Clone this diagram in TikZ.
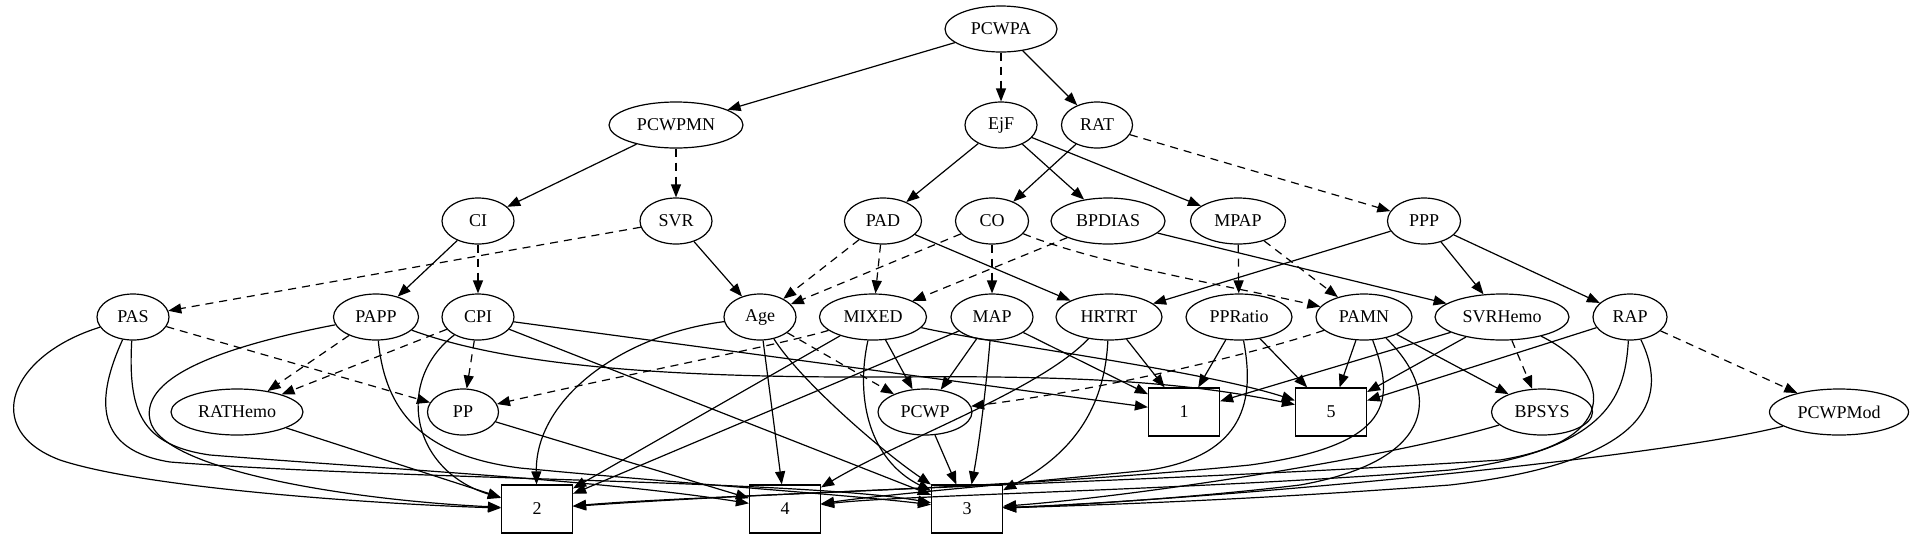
\documentclass[tikz,border=0pt]{standalone}
\usepackage{fontspec}
\setmainfont{Liberation Serif}
\usetikzlibrary{shapes.geometric, arrows.meta}

\tikzset{
	var/.style = {draw, ellipse, line width = 1.2pt, minimum height = 46pt, inner sep = 1pt, font = \fontsize{18}{20}\selectfont},
	res/.style = {draw, rectangle, line width = 1.2pt, minimum width = 71pt, minimum height = 48pt, font = \fontsize{18}{20}\selectfont},
	dep/.style = {->, line width = 1.2pt},
	weak/.style = {dep, dash pattern = on 8pt off 6pt}
}

\begin{document}
\begin{tikzpicture}[> = {Triangle[length = 13pt, width = 10pt]}, x = 1pt, y = -1pt]

	% Canvas (graph pixels, y pointing down)
	
	\useasboundingbox (0, 0) rectangle (1913, 539);

	% Upper rows of variables
	
	\node [var, minimum width = 112pt] (PCWPA) at (1001, 29) {PCWPA};
	
	\node [var, minimum width = 134pt] (PCWPMN) at (676, 125) {PCWPMN};
	\node [var, minimum width = 72pt] (EjF) at (1001, 125) {EjF};
	\node [var, minimum width = 71pt] (RAT) at (1097, 125) {RAT};
	
	\node [var, minimum width = 72pt] (CI) at (478, 221) {CI};
	\node [var, minimum width = 72pt] (SVR) at (676, 221) {SVR};
	\node [var, minimum width = 77pt] (PAD) at (883, 221) {PAD};
	\node [var, minimum width = 73pt] (CO) at (992, 221) {CO};
	\node [var, minimum width = 114pt] (BPDIAS) at (1108, 221) {BPDIAS};
	\node [var, minimum width = 95pt] (MPAP) at (1238, 221) {MPAP};
	\node [var, minimum width = 73pt] (PPP) at (1424, 221) {PPP};
	
	% Middle row
	
	\node [var, minimum width = 72pt] (PAS) at (133, 317) {PAS};
	\node [var, minimum width = 85pt] (PAPP) at (376, 317) {PAPP};
	\node [var, minimum width = 72pt] (CPI) at (478, 317) {CPI};
	\node [var, minimum width = 72pt] (Age) at (760, 317) {Age};
	\node [var, minimum width = 107pt] (MIXED) at (873, 317) {MIXED};
	\node [var, minimum width = 82pt] (MAP) at (992, 317) {MAP};
	\node [var, minimum width = 106pt] (HRTRT) at (1109, 317) {HRTRT};
	\node [var, minimum width = 106pt] (PPRatio) at (1239, 317) {PPRatio};
	\node [var, minimum width = 96pt] (PAMN) at (1364, 317) {PAMN};
	\node [var, minimum width = 134pt] (SVRHemo) at (1502, 317) {SVRHemo};
	\node [var, minimum width = 74pt] (RAP) at (1630, 317) {RAP};
	
	% Lower rows: variables and the five classes
	
	\node [var, minimum width = 132pt] (RATHemo) at (237, 412) {RATHemo};
	\node [var, minimum width = 71pt] (PP) at (463, 412) {PP};
	\node [var, minimum width = 94pt] (PCWP) at (925, 412) {PCWP};
	\node [res] (c1) at (1184, 412) {1};
	\node [res] (c5) at (1331, 412) {5};
	\node [var, minimum width = 101pt] (BPSYS) at (1542, 412) {BPSYS};
	\node [var, minimum width = 139pt] (PCWPMod) at (1839, 412) {PCWPMod};
	
	\node [res] (c2) at (537, 509) {2};
	\node [res] (c4) at (785, 509) {4};
	\node [res] (c3) at (967, 509) {3};

	% Edges between the upper rows
	
	\draw [dep] (PCWPA) -- (PCWPMN);
	\draw [weak] (PCWPA) -- (EjF);
	\draw [dep] (PCWPA) -- (RAT);
	\draw [dep] (PCWPMN) -- (CI);
	\draw [weak] (PCWPMN) -- (SVR);
	\draw [dep] (EjF) -- (PAD);
	\draw [dep] (EjF) -- (BPDIAS);
	\draw [dep] (EjF) -- (MPAP);
	\draw [dep] (RAT) -- (CO);
	\draw [weak] (RAT) -- (PPP);
	
	\draw [dep] (CI) -- (PAPP);
	\draw [weak] (CI) -- (CPI);
	\draw [weak] (SVR) -- (PAS);
	\draw [dep] (SVR) -- (Age);
	\draw [weak] (PAD) -- (Age);
	\draw [weak] (PAD) -- (MIXED);
	\draw [dep] (PAD) -- (HRTRT);
	\draw [weak] (CO) -- (Age);
	\draw [weak] (CO) -- (MAP);
	\draw [weak] (CO) .. controls (1100, 265) and (1250, 290) .. (PAMN);
	\draw [weak] (BPDIAS) -- (MIXED);
	\draw [dep] (BPDIAS) -- (SVRHemo);
	\draw [weak] (MPAP) -- (PPRatio);
	\draw [weak] (MPAP) -- (PAMN);
	\draw [dep] (PPP) -- (HRTRT);
	\draw [dep] (PPP) -- (SVRHemo);
	\draw [dep] (PPP) -- (RAP);
	
	% Edges out of the middle row, left part
	
	\draw [weak] (PAS) -- (PP);
	\draw [dep] (PAS) .. controls (10, 355) and (-20, 430) .. (60, 460) .. controls (150, 490) and (400, 505) .. (c2);
	\draw [dep] (PAS) .. controls (95, 400) and (95, 450) .. (170, 462) .. controls (400, 480) and (800, 480) .. (c3);
	\draw [dep] (PAS) .. controls (128, 410) and (140, 445) .. (210, 455) .. controls (400, 470) and (600, 480) .. (c4);
	
	\draw [weak] (PAPP) -- (RATHemo);
	\draw [dep] (PAPP) .. controls (230, 345) and (140, 375) .. (150, 420) .. controls (160, 470) and (350, 500) .. (c2);
	\draw [dep] (PAPP) .. controls (385, 410) and (420, 455) .. (520, 468) .. controls (700, 485) and (850, 495) .. (c3);
	\draw [dep] (PAPP) .. controls (520, 370) and (700, 378) .. (900, 377) .. controls (1100, 375) and (1200, 385) .. (c5);
	
	\draw [weak] (CPI) -- (RATHemo);
	\draw [weak] (CPI) -- (PP);
	\draw [dep] (CPI) .. controls (395, 380) and (410, 470) .. (c2);
	\draw [dep] (CPI) -- (c3);
	\draw [dep] (CPI) -- (c1);
	
	\draw [dep] (RATHemo) -- (c2);
	\draw [dep] (PP) -- (c4);
	
	% Edges out of the middle row, centre part
	
	\draw [dep] (Age) .. controls (620, 335) and (535, 400) .. (c2);
	\draw [dep] (Age) -- (c4);
	\draw [dep] (Age) .. controls (800, 380) and (880, 450) .. (c3);
	\draw [weak] (Age) -- (PCWP);
	
	\draw [weak] (MIXED) .. controls (780, 345) and (600, 380) .. (PP);
	\draw [dep] (MIXED) -- (c2);
	\draw [dep] (MIXED) .. controls (855, 400) and (870, 460) .. (c3);
	\draw [dep] (MIXED) -- (PCWP);
	\draw [dep] (MIXED) .. controls (1000, 345) and (1200, 370) .. (c5);
	
	\draw [dep] (MAP) -- (c2);
	\draw [dep] (MAP) -- (PCWP);
	\draw [dep] (MAP) .. controls (985, 400) and (978, 450) .. (c3);
	\draw [dep] (MAP) -- (c1);
	
	\draw [dep] (HRTRT) .. controls (1040, 390) and (900, 440) .. (c4);
	\draw [dep] (HRTRT) .. controls (1105, 400) and (1080, 450) .. (c3);
	\draw [dep] (HRTRT) -- (c1);
	
	\draw [dep] (PCWP) -- (c3);
	
	% Edges out of the middle row, right part
	
	\draw [dep] (PPRatio) -- (c1);
	\draw [dep] (PPRatio) -- (c5);
	\draw [dep] (PPRatio) .. controls (1255, 400) and (1245, 455) .. (1150, 470) .. controls (1000, 485) and (880, 495) .. (c4);
	
	\draw [weak] (PAMN) .. controls (1250, 355) and (1100, 390) .. (PCWP);
	\draw [dep] (PAMN) -- (c5);
	\draw [dep] (PAMN) -- (BPSYS);
	\draw [dep] (PAMN) .. controls (1395, 400) and (1395, 445) .. (1250, 465) .. controls (1000, 490) and (700, 495) .. (c2);
	\draw [dep] (PAMN) .. controls (1440, 390) and (1440, 460) .. (1300, 485) .. controls (1200, 497) and (1080, 505) .. (c3);
	
	\draw [dep] (SVRHemo) -- (c1);
	\draw [dep] (SVRHemo) -- (c5);
	\draw [weak] (SVRHemo) -- (BPSYS);
	\draw [dep] (SVRHemo) .. controls (1610, 370) and (1625, 440) .. (1500, 460) .. controls (1200, 480) and (800, 490) .. (c2);
	
	\draw [dep] (RAP) -- (c5);
	\draw [weak] (RAP) -- (PCWPMod);
	\draw [dep] (RAP) .. controls (1625, 390) and (1615, 450) .. (1450, 470) .. controls (1200, 490) and (900, 495) .. (c4);
	\draw [dep] (RAP) .. controls (1665, 390) and (1665, 460) .. (1450, 485) .. controls (1250, 500) and (1100, 505) .. (c3);
	
	\draw [dep] (BPSYS) .. controls (1400, 455) and (1150, 495) .. (c3);
	\draw [dep] (PCWPMod) .. controls (1650, 460) and (1200, 500) .. (c3);

\end{tikzpicture}
\end{document}
